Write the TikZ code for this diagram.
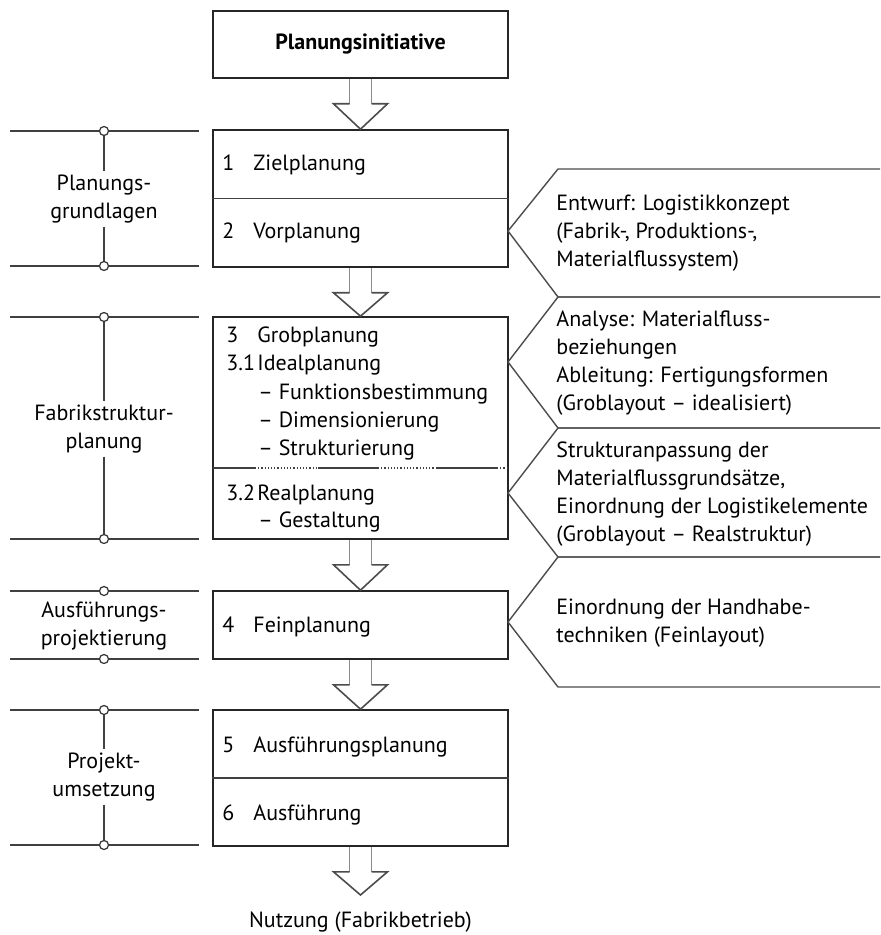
\documentclass[tikz,border=0pt]{standalone}
\usepackage{fontspec}
\setmainfont{PT Sans}
\usetikzlibrary{calc}

\begin{document}
\begin{tikzpicture}[x=0.5pt,y=-0.5pt,
    phase/.style={draw=black!85, line width=0.8pt, minimum width=147.5pt, inner sep=0pt},
    txt/.style={anchor=mid west, inner sep=0pt, font=\fontsize{11}{14}\selectfont},
    grp/.style={align=center, inner sep=1.5pt, font=\fontsize{11}{14}\selectfont},
    note/.style={anchor=west, align=left, inner sep=0pt, font=\fontsize{11}{14}\selectfont},
    dot/.style={circle, draw=black!80, fill=white, line width=0.6pt, inner sep=0pt, minimum size=4.5pt},
    rule/.style={draw=black!75, line width=0.8pt},
    chev/.style={draw=black!70, line width=0.7pt, line join=miter},
    shaft/.style={draw=black!45, line width=0.8pt},
    head/.style={draw=black!70, line width=0.8pt, line join=miter}]
    \useasboundingbox (0,0) rectangle (880,935);

    % Phasen
    \node[phase, minimum height=33.5pt, font=\bfseries\fontsize{11}{14}\selectfont] (p0) at (360.5,44.5) {Planungsinitiative};
    \node[phase, minimum height=68.5pt] (p12) at (360.5,198.5) {};
    \node[phase, minimum height=111pt] (p3) at (360.5,428) {};
    \node[phase, minimum height=34pt] (p4) at (360.5,625) {};
    \node[phase, minimum height=68pt] (p56) at (360.5,778) {};
    \draw[rule] (p12.west) -- (p12.east);
    \draw[rule] (p56.west) -- (p56.east);
    \foreach \a/\b in {213/255, 318/378, 437/497}
        \draw[rule] (\a,468) -- (\b,468);
    \foreach \a/\b in {255/318, 378/437, 497/508}
        \draw[rule, line width=0.6pt, densely dotted] (\a,468) -- (\b,468);

    \foreach \y/\n/\t in {166/1/Zielplanung, 234/2/Vorplanung, 627/4/Feinplanung, 747/5/Ausführungsplanung, 815/6/Ausführung}
    {
        \node[txt] (n\n) at (222,\y) {\n};
        \node[txt] (t\n) at (253,\y) {\t};
    }
    \node[txt] (n3) at (226,337) {3};
    \node[txt] (t3) at (257,337) {Grobplanung};
    \node[txt] (n31) at (226,365) {3.1};
    \node[txt] (t31) at (257,365) {Idealplanung};
    \foreach \y/\t [count=\i] in {394/Funktionsbestimmung, 422/Dimensionierung, 450/Strukturierung}
        \node[txt] (s\i) at (258,\y) {– \t};
    \node[txt] (n32) at (226,495) {3.2};
    \node[txt] (t32) at (257,495) {Realplanung};
    \node[txt] (s4) at (258,522) {– Gestaltung};

    \node[grp] (use) at (360.5,922) {Nutzung (Fabrikbetrieb)};
    \coordinate (e) at (360.5,895);

    % Blockpfeile
    \foreach \a/\b in {p0.south/p12.north, p12.south/p3.north, p3.south/p4.north, p4.south/p56.north, p56.south/e}
    {
        \draw[shaft] ($(\a)+(-11,0)$) -- ++(0,25);
        \draw[shaft] ($(\a)+(11,0)$) -- ++(0,25);
        \draw[head] ($(\a)+(-11,25)$) -- ++(-16,0) -- (\b) -- ($(\a)+(27,25)$) -- ++(-16,0);
    }

    % Klammern links
    \foreach \y/\n in {131/g1, 266/g2, 317/g3, 539/g4, 591/g5, 659/g6, 710/g7, 845/g8}
    {
        \draw[rule] (10,\y) -- (199,\y);
        \node[dot] (\n) at (104,\y) {};
    }
    \node[grp] (lab1) at (104,199) {Planungs-\\grundlagen};
    \node[grp] (lab2) at (104,429) {Fabrikstruktur-\\planung};
    \node[grp] (lab3) at (104,626) {Ausführungs-\\projektierung};
    \node[grp] (lab4) at (104,777) {Projekt-\\umsetzung};
    \draw[rule] (g1) -- (lab1);
    \draw[rule] (lab1) -- (g2);
    \draw[rule] (g3) -- (lab2);
    \draw[rule] (lab2) -- (g4);
    \draw[rule] (g7) -- (lab4);
    \draw[rule] (lab4) -- (g8);

    % Ergebnisse rechts
    \foreach \a/\t/\b in {169/231/297, 297/362/428, 428/493/557, 557/622/687}
        \draw[chev] (880,\a) -- (558,\a) -- (508,\t) -- (558,\b) -- (880,\b);
    \node[note] (c1) at (556,233) {Entwurf: Logistikkonzept\\(Fabrik-, Produktions-,\\Materialflussystem)};
    \node[note] (c2) at (556,363) {Analyse: Materialfluss-\\beziehungen\\Ableitung: Fertigungsformen\\(Groblayout – idealisiert)};
    \node[note] (c3) at (556,494) {Strukturanpassung der\\Materialflussgrundsätze,\\Einordnung der Logistikelemente\\(Groblayout – Realstruktur)};
    \node[note] (c4) at (556,623) {Einordnung der Handhabe-\\techniken (Feinlayout)};
\end{tikzpicture}
\end{document}
